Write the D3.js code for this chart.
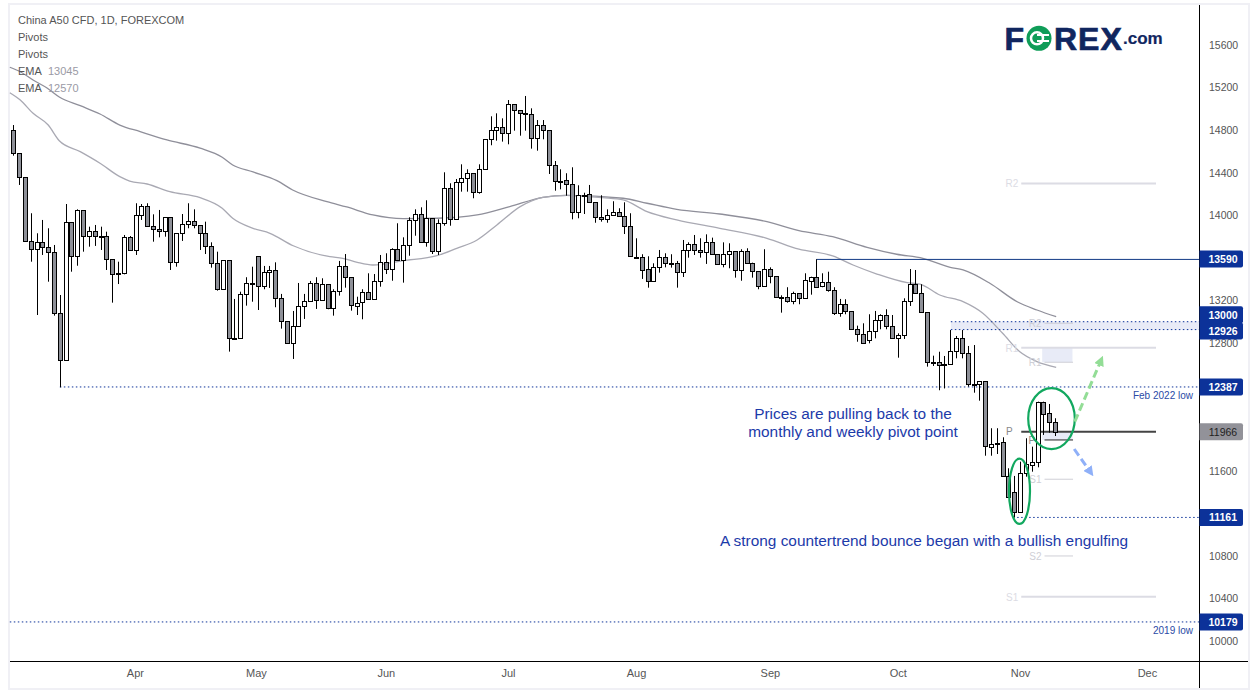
<!DOCTYPE html>
<html>
<head>
<meta charset="utf-8">
<script src="https://cdn.jsdelivr.net/npm/d3@7"></script>
<style>
  html, body { margin: 0; padding: 0; background: #fff; }
  svg { display: block; }
  text { font-family: "Liberation Sans", Arial, sans-serif; }
</style>
</head>
<body>
<div id="chart"></div>
<script>
// daily candles
var opens = [14799,14583,14357,13756,13681,13746,13699,13652,13079,12638,
13934,13615,14047,13803,13850,13803,13803,13587,13442,13451,
13793,13671,14000,14085,13897,13867,13850,13981,13558,13831,
13915,13944,13906,13831,13709,13549,13305,13577,12841,12841,
13258,13361,13615,13333,13465,13483,13220,13004,12797,12957,
13145,13192,13361,13201,13352,13126,13284,13521,13418,13154,
13179,13276,13211,13380,13558,13493,13681,13577,13718,13953,
14009,13746,13972,13658,13925,14254,13962,14310,14348,14395,
14216,14432,14714,14799,14827,14770,15043,14987,14958,14949,
14723,14846,14799,14470,14325,14329,14291,14028,14186,14197,
14122,13981,13962,14000,14028,13991,13897,13611,13611,13493,
13380,13511,13605,13549,13549,13465,13671,13728,13671,13652,
13746,13634,13540,13634,13662,13483,13662,13549,13474,13333,
13493,13427,13230,13230,13192,13267,13220,13389,13423,13333,
13370,13295,13079,13164,13098,12929,12882,12825,12910,13013,
13060,12957,12844,12873,13192,13352,13267,13089,12625,12626,
12605,12600,12722,12844,12703,12412,12412,12440,11826,11863,
11867,11548,11397,11209,11576,11660,11685,12249,12140,12055];

var closes = [14583,14357,13756,13681,13746,13699,13652,13079,12638,13934,
13615,14047,13803,13850,13803,13800,13587,13442,13455,13793,
13671,14000,14085,13897,13867,13850,13981,13558,13831,13915,
13944,13906,13831,13709,13549,13305,13577,12841,12845,13258,
13361,13352,13333,13465,13483,13220,13004,12797,12957,13145,
13192,13361,13201,13352,13126,13284,13521,13418,13154,13179,
13276,13211,13380,13558,13493,13681,13577,13718,13953,14009,
13746,13972,13658,13925,14254,13962,14310,14348,14395,14216,
14432,14714,14799,14827,14770,15043,14987,14958,14949,14723,
14846,14799,14470,14319,14319,14291,14028,14188,14191,14122,
13981,13962,14000,14028,13991,13897,13611,13607,13493,13380,
13511,13605,13549,13546,13465,13671,13728,13671,13652,13746,
13634,13540,13634,13662,13483,13662,13549,13474,13333,13493,
13427,13230,13226,13192,13267,13220,13389,13423,13333,13370,
13295,13079,13164,13098,12929,12882,12797,12910,13013,13060,
12957,12844,12873,13192,13352,13267,13089,12619,12619,12600,
12598,12722,12844,12703,12412,12407,12440,11826,11854,11858,
11548,11350,11209,11576,11660,11685,12249,12140,12055,11957];

var highs = [14848,14583,14357,14019,13831,13956,13878,13721,13251,14106,
13934,14056,14047,13893,13909,13893,13846,13587,13564,13815,
13805,14113,14106,14113,14009,14050,13981,13981,13831,14012,
14113,14056,13906,13940,13746,13658,13577,13577,13214,13282,
13418,13517,13615,13524,13524,13558,13261,13004,13101,13364,
13261,13383,13418,13408,13352,13305,13571,13636,13418,13235,
13305,13455,13448,13627,13643,13690,13925,13793,13981,14056,
14075,14141,13972,13962,14404,14301,14341,14479,14432,14395,
14479,14714,14930,14958,14911,15083,15043,14987,15121,15005,
14895,14895,14799,14510,14432,14395,14451,14282,14212,14285,
14122,14188,14056,14132,14066,14122,14019,13784,13634,13615,
13549,13674,13643,13634,13571,13768,13746,13815,13784,13821,
13790,13634,13746,13737,13662,13681,13690,13555,13474,13681,
13511,13427,13248,13324,13282,13267,13455,13423,13587,13455,
13470,13324,13214,13211,13098,12963,12985,13070,13101,13070,
13117,13063,12891,13220,13495,13486,13352,13089,12681,12718,
12678,12922,12866,12922,12772,12781,12440,12440,11999,11999,
11914,11623,11551,11685,11905,11826,12249,12249,12227,12093];

var lows = [14560,14285,13756,13564,13063,13627,13376,13057,12384,12638,
13470,13526,13658,13705,13712,13674,13486,13179,13354,13445,
13667,13627,13956,13897,13752,13793,13799,13486,13517,13759,
13878,13878,13674,13636,13508,13292,13305,12719,12841,12841,
13151,13188,13110,13305,13317,13136,12935,12797,12650,12957,
13026,13192,13120,13201,13117,13057,13245,13320,13104,13063,
13023,13211,13211,13329,13448,13385,13577,13367,13620,13808,
13746,13705,13636,13627,13902,13902,13962,14222,14222,14160,
14203,14432,14658,14701,14692,14667,14795,14748,14795,14626,
14607,14714,14388,14231,14244,14184,13962,13972,14012,14122,
13930,13940,13930,14000,13991,13824,13611,13607,13402,13320,
13380,13461,13511,13508,13320,13420,13602,13627,13602,13543,
13634,13540,13511,13502,13414,13385,13549,13414,13305,13333,
13361,13230,13085,13179,13164,13164,13220,13254,13324,13324,
13282,13063,13047,13070,12929,12812,12797,12797,12844,12929,
12929,12844,12662,12838,13148,13267,13089,12578,12584,12356,
12373,12600,12656,12656,12390,12333,12258,11741,11741,11757,
11548,11350,11159,11209,11544,11591,11632,11936,11957,11926];

// the two moving averages, sampled along the line (candle number, price)
var slowEmaIdx = [-0.6,1.2,3.4,5.8,7.9,11.5,14.9,18.3,21.8,26.4,32.1,35.9,37.7,41.2,45.3,48,53.9,57.3,61.8,67,72.8,79.7,85.3,91,95.1,104.8,108.9,114,121.4,129.5,135,140.8,146.7,151.8,156.3,161,163.2,167.8,172.5,175.9,179.2];
var slowEma = [15391,15349,15271,15196,15112,15030,14952,14848,14786,14708,14630,14545,14473,14407,14325,14238,14128,14078,14003,13968,13972,14003,14081,14169,14188,14160,14113,14056,14012,13940,13855,13799,13699,13634,13596,13511,13486,13361,13188,13110,13047];
var fastEmaIdx = [-0.6,1.2,3.4,6,7.9,11.5,14.9,18.3,20,23,26.9,32.1,35.9,37.7,41.2,44.1,48.1,54.4,56.6,59.1,61.8,67,72.8,76.2,79.7,83.1,87.1,91,95.1,101.3,104.8,108.9,114,121.4,129.5,135,140.8,144.3,148.4,153.6,155.8,159.2,163.2,166.6,170,172.9,175.9,179.2];
var fastEma = [15152,15083,14958,14848,14701,14598,14489,14363,14322,14294,14222,14165,14066,13972,13878,13831,13714,13611,13596,13558,13533,13573,13620,13690,13768,13909,14081,14169,14188,14165,14144,14034,13956,13878,13784,13681,13618,13533,13448,13367,13353,13251,13188,13079,12891,12719,12625,12572];

var monthNames = ["Apr","May","Jun","Jul","Aug","Sep","Oct","Nov","Dec"];
var monthIdx = [20.9,41.7,64,85,107,130,152,173,194.8];
var priceTicks = [15600,15200,14800,14400,14000,13200,12800,11600,10800,10400,10000];

// pivot levels: name, price
var monthlyPivots = [["R2",14299],["R1",12756],["S1",10416]];
var weeklyPivots = [["R2",12985],["R1",12619],["S1",11520],["S2",10799]];

var legendLines = ["China A50 CFD, 1D, FOREXCOM","Pivots","Pivots","EMA","EMA"];
var legendValues = ["","","","13045","12570"];

var width = 1259, height = 698;
var navy = "#0c3299", textBlue = "#1c3aa9";

var x = d3.scaleLinear().domain([0,179]).range([13.3,1055]);
var y = d3.scaleLinear().domain([10000,15600]).range([641,45]);

var svg = d3.select("#chart").append("svg").attr("width",width).attr("height",height);

// frame
svg.append("rect").attr("x",9).attr("y",4).attr("width",1240).attr("height",685)
  .attr("fill","#fff").attr("stroke","#f0f0f5").attr("stroke-width",2);

// shaded zones
var zones = [
  {x0:x(161.1), x1:1199, top:13000, bot:12926},
  {x0:x(176.8), x1:x(182), top:12756, bot:12619},
  {x0:x(176.8), x1:x(182), top:11966, bot:11889}
];
svg.selectAll(".zone").data(zones).enter().append("rect")
  .attr("x",d=>d.x0).attr("width",d=>d.x1-d.x0)
  .attr("y",d=>y(d.top)).attr("height",d=>y(d.bot)-y(d.top))
  .attr("fill","#e8ebf7");

// moving averages
var emaLine = d3.line().x(d=>x(d[0])).y(d=>y(d[1])).curve(d3.curveMonotoneX);
svg.append("path").attr("d",emaLine(d3.zip(slowEmaIdx,slowEma)))
  .attr("fill","none").attr("stroke","#8f8f9a").attr("stroke-width",1.3);
svg.append("path").attr("d",emaLine(d3.zip(fastEmaIdx,fastEma)))
  .attr("fill","none").attr("stroke","#a9a9b3").attr("stroke-width",1.3);

// monthly pivots
monthlyPivots.forEach(function(p){
  svg.append("line").attr("x1",x(173.2)).attr("x2",1156).attr("y1",y(p[1])).attr("y2",y(p[1]))
    .attr("stroke","#dcdce4").attr("stroke-width",2);
  svg.append("text").attr("x",x(173.2)-3).attr("y",y(p[1])+4).attr("text-anchor","end")
    .attr("font-size",10).attr("fill","#dcdce4").text(p[0]);
});
// weekly pivots
weeklyPivots.forEach(function(p){
  svg.append("line").attr("x1",x(177.2)).attr("x2",x(182.1)).attr("y1",y(p[1])).attr("y2",y(p[1]))
    .attr("stroke","#cfcfd6").attr("stroke-width",1);
  svg.append("text").attr("x",x(177.2)-3).attr("y",y(p[1])+4).attr("text-anchor","end")
    .attr("font-size",10).attr("fill","#cfcfd6").text(p[0]);
});
svg.append("line").attr("x1",x(177.2)).attr("x2",x(182.1)).attr("y1",y(11889)).attr("y2",y(11889))
  .attr("stroke","#222").attr("stroke-width",1);
svg.append("text").attr("x",x(175)).attr("y",y(11889)+4).attr("text-anchor","middle")
  .attr("font-size",10).attr("fill","#888").text("P");
svg.append("line").attr("x1",x(173.2)).attr("x2",1156).attr("y1",y(11966)).attr("y2",y(11966))
  .attr("stroke","#444").attr("stroke-width",2);
svg.append("text").attr("x",x(173.2)-12).attr("y",y(11966)+3).attr("text-anchor","middle")
  .attr("font-size",10).attr("fill","#888").text("P");

// horizontal levels
var dottedLevels = [{p:13000,from:161.1},{p:12926,from:161.1},{p:12387,from:8},{p:11161,from:172.5},{p:10179,from:-0.6}];
svg.selectAll(".level").data(dottedLevels).enter().append("line")
  .attr("x1",d=>x(d.from)).attr("x2",1199).attr("y1",d=>y(d.p)).attr("y2",d=>y(d.p))
  .attr("stroke",navy).attr("stroke-width",1).attr("stroke-dasharray","1.5 2.5");
svg.append("line").attr("x1",x(138)).attr("x2",1199).attr("y1",y(13590)+0.5).attr("y2",y(13590)+0.5)
  .attr("stroke","#123a86").attr("stroke-width",1);

// candles
var candles = d3.range(opens.length).map(function(i){
  return {i:i, o:opens[i], h:highs[i], l:lows[i], c:closes[i]};
});
var px = d => Math.round(x(d.i)) + 0.5;
var g = svg.selectAll(".candle").data(candles).enter().append("g").attr("class","candle");
g.append("line").attr("x1",px).attr("x2",px)
  .attr("y1",d=>y(d.h)).attr("y2",d=>y(d.l))
  .attr("stroke","#000").attr("stroke-width",1);
g.append("rect").attr("x",d=>px(d)-2).attr("width",4)
  .attr("y",d=>Math.round(y(Math.max(d.o,d.c)))+0.5)
  .attr("height",d=>Math.max(1,Math.round(Math.abs(y(d.o)-y(d.c)))))
  .attr("fill",d=>d.c<d.o?"#8e9098":"#fff")
  .attr("stroke","#000").attr("stroke-width",1);

// axes panes
svg.append("line").attr("x1",1199.5).attr("x2",1199.5).attr("y1",5).attr("y2",688).attr("stroke","#000");
svg.append("line").attr("x1",10).attr("x2",1248).attr("y1",661.5).attr("y2",661.5).attr("stroke","#000");

var yAxis = d3.axisRight(y).tickValues(priceTicks).tickFormat(d3.format("d")).tickSize(0).tickPadding(10);
var yG = svg.append("g").attr("transform","translate(1199,0)").call(yAxis);
yG.select(".domain").remove();
yG.selectAll("text").attr("font-size",10.5).attr("fill","#555").style("font-family",'"Liberation Sans", Arial, sans-serif');

var xAxis = d3.axisBottom(x).tickValues(monthIdx).tickFormat((d,i)=>monthNames[i]).tickSize(0).tickPadding(8);
var xG = svg.append("g").attr("transform","translate(0,661)").call(xAxis);
xG.select(".domain").remove();
xG.selectAll("text").attr("font-size",11).attr("fill","#555").style("font-family",'"Liberation Sans", Arial, sans-serif');

// price labels on the axis
var priceLabels = [
  {p:13590, dy:0, fill:navy, color:"#fff", weight:"bold"},
  {p:13000, dy:-7, fill:navy, color:"#fff", weight:"bold"},
  {p:12926, dy:1.5, fill:navy, color:"#fff", weight:"bold"},
  {p:12387, dy:0, fill:navy, color:"#fff", weight:"bold"},
  {p:11966, dy:0, fill:"#929299", color:"#222", weight:"normal"},
  {p:11161, dy:0, fill:navy, color:"#fff", weight:"bold"},
  {p:10179, dy:0, fill:navy, color:"#fff", weight:"bold"}
];
svg.selectAll(".plabel").data(priceLabels).enter().append("path")
  .attr("d",function(d){
    var t = y(d.p)+d.dy-8.5;
    return "M1199.5,"+t+"H1241a2,2 0 0 1 2,2V"+(t+15)+"a2,2 0 0 1 -2,2H1199.5Z";
  })
  .attr("fill",d=>d.fill);
svg.selectAll(".ptext").data(priceLabels).enter().append("text")
  .attr("x",1223).attr("y",d=>y(d.p)+d.dy+4).attr("text-anchor","middle")
  .attr("font-size",10.5).attr("font-weight",d=>d.weight).attr("fill",d=>d.color)
  .text(d=>d.p);

// notes on the levels
svg.append("text").attr("x",1193).attr("y",399).attr("text-anchor","end").attr("font-size",10)
  .attr("fill","#2a4aa5").text("Feb 2022 low");
svg.append("text").attr("x",1193).attr("y",634).attr("text-anchor","end").attr("font-size",10)
  .attr("fill","#2a4aa5").text("2019 low");

// commentary
svg.append("text").attr("x",853).attr("y",419).attr("text-anchor","middle").attr("font-size",15.4)
  .attr("fill",textBlue).text("Prices are pulling back to the");
svg.append("text").attr("x",853).attr("y",437).attr("text-anchor","middle").attr("font-size",15.4)
  .attr("fill",textBlue).text("monthly and weekly pivot point");
svg.append("text").attr("x",924).attr("y",546).attr("text-anchor","middle").attr("font-size",15.4)
  .attr("fill",textBlue).text("A strong countertrend bounce began with a bullish engulfing");

// ellipses
var ellipses = [{i:172.9,p:11407,rx:10.5,ry:32.7},{i:178.4,p:12090,rx:23.3,ry:30.5}];
svg.selectAll(".ring").data(ellipses).enter().append("ellipse")
  .attr("cx",d=>x(d.i)).attr("cy",d=>y(d.p)).attr("rx",d=>d.rx).attr("ry",d=>d.ry)
  .attr("fill","none").attr("stroke","#12a85f").attr("stroke-width",2.2);

// dashed arrows
var defs = svg.append("defs");
[["arrowGreen","#93dd96"],["arrowBlue","#8fb0f8"]].forEach(function(m){
  defs.append("marker").attr("id",m[0]).attr("viewBox","0 0 10 10").attr("refX",2).attr("refY",5)
    .attr("markerWidth",10).attr("markerHeight",10).attr("markerUnits","userSpaceOnUse").attr("orient","auto")
    .append("path").attr("d","M0,0L10,5L0,10Z").attr("fill",m[1]);
});
svg.append("line").attr("x1",x(182.4)).attr("y1",y(12061)).attr("x2",x(186.7)).attr("y2",y(12610))
  .attr("stroke","#93dd96").attr("stroke-width",3).attr("stroke-dasharray","8 4").attr("marker-end","url(#arrowGreen)");
svg.append("line").attr("x1",x(182.3)).attr("y1",y(11804)).attr("x2",x(184.8)).attr("y2",y(11610))
  .attr("stroke","#8fb0f8").attr("stroke-width",3).attr("stroke-dasharray","8 4").attr("marker-end","url(#arrowBlue)");

// legend
legendLines.forEach(function(t,k){
  var ty = 23.5 + k*17;
  svg.append("text").attr("x",18).attr("y",ty).attr("font-size",11).attr("fill","#555").text(t);
  if (legendValues[k]) svg.append("text").attr("x",48).attr("y",ty).attr("font-size",11).attr("fill","#9a9aa5").text(legendValues[k]);
});

// logo
var logo = svg.append("g").attr("stroke","#10265f").attr("stroke-width",0.7);
logo.append("text").attr("x",1004.5).attr("y",50).attr("font-size",32).attr("font-weight","bold").attr("fill","#10265f").text("F");
logo.append("circle").attr("cx",1039).attr("cy",38.3).attr("r",12.5).attr("fill","#0f9d58").attr("stroke","none");
logo.append("circle").attr("cx",1037).attr("cy",38.3).attr("r",6).attr("fill","none").attr("stroke","#fff").attr("stroke-width",2.5);
logo.append("rect").attr("x",1037).attr("y",34).attr("width",12).attr("height",2).attr("fill","#fff").attr("stroke","none");
logo.append("rect").attr("x",1037).attr("y",40).attr("width",12).attr("height",2).attr("fill","#fff").attr("stroke","none");
logo.append("text").attr("x",1054).attr("y",50).attr("font-size",32).attr("font-weight","bold").attr("fill","#10265f").attr("letter-spacing",1).text("REX");
logo.append("text").attr("x",1123).attr("y",44).attr("font-size",17).attr("font-weight","bold").attr("fill","#10265f").attr("stroke-width",0.2).text(".com");
</script>
</body>
</html>
